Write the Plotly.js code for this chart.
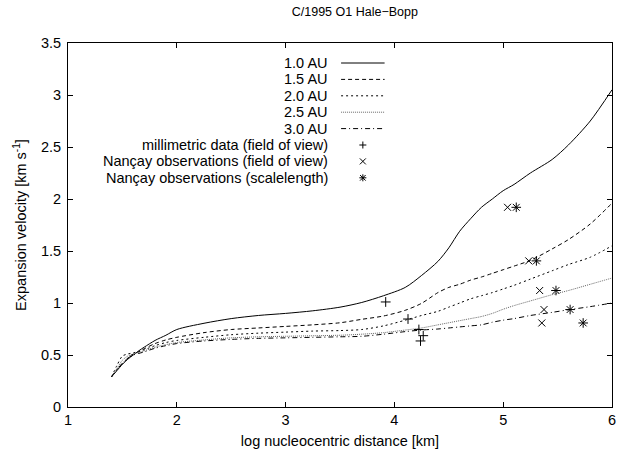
<!DOCTYPE html>
<html>
<head>
<meta charset="utf-8">
<script src="https://cdn.plot.ly/plotly-3.0.1.min.js"></script>
<style>html,body{margin:0;padding:0;background:#fff}#chart{width:644px;height:458px}</style>
</head>
<body>
<div id="chart"></div>
<script>
// log nucleocentric distance [km]
const logDistance = [1.4, 1.45, 1.5, 1.55, 1.6, 1.65, 1.7, 1.8, 1.9, 2.0, 2.25, 2.5, 2.75, 3.0, 3.25, 3.5, 3.7, 3.9, 4.1, 4.25, 4.4, 4.5, 4.6, 4.7, 4.8, 4.9, 5.0, 5.1, 5.25, 5.45, 5.6, 5.8, 6.0];
// expansion velocity [km/s] for each heliocentric distance
const v10AU = [0.29, 0.35, 0.41, 0.46, 0.50, 0.54, 0.575, 0.64, 0.69, 0.745, 0.805, 0.85, 0.88, 0.90, 0.925, 0.96, 1.005, 1.07, 1.15, 1.265, 1.40, 1.53, 1.69, 1.81, 1.92, 2.00, 2.08, 2.14, 2.25, 2.38, 2.52, 2.75, 3.05];
const v15AU = [0.29, 0.36, 0.42, 0.47, 0.51, 0.53, 0.56, 0.61, 0.645, 0.67, 0.715, 0.745, 0.76, 0.775, 0.79, 0.81, 0.843, 0.875, 0.93, 0.997, 1.10, 1.15, 1.18, 1.22, 1.25, 1.285, 1.32, 1.355, 1.41, 1.52, 1.61, 1.76, 1.96];
const v20AU = [0.29, 0.40, 0.49, 0.51, 0.52, 0.535, 0.55, 0.59, 0.62, 0.64, 0.67, 0.695, 0.71, 0.72, 0.73, 0.735, 0.745, 0.78, 0.835, 0.88, 0.92, 0.96, 1.0, 1.04, 1.07, 1.10, 1.135, 1.17, 1.23, 1.31, 1.37, 1.44, 1.55];
const v25AU = [0.29, 0.37, 0.45, 0.49, 0.51, 0.525, 0.54, 0.575, 0.60, 0.62, 0.645, 0.665, 0.675, 0.68, 0.685, 0.69, 0.70, 0.715, 0.74, 0.76, 0.79, 0.81, 0.83, 0.85, 0.87, 0.90, 0.94, 0.975, 1.02, 1.08, 1.12, 1.18, 1.24];
const v30AU = [0.29, 0.36, 0.42, 0.47, 0.50, 0.515, 0.53, 0.565, 0.59, 0.61, 0.635, 0.65, 0.66, 0.665, 0.67, 0.675, 0.68, 0.70, 0.725, 0.74, 0.75, 0.76, 0.77, 0.78, 0.79, 0.815, 0.835, 0.85, 0.88, 0.91, 0.935, 0.965, 1.00];
const curveNames = ["1.0 AU", "1.5 AU", "2.0 AU", "2.5 AU", "3.0 AU"];

// observations
const mmX = [3.92, 4.125, 4.225, 4.265, 4.24];
const mmY = [1.01, 0.846, 0.745, 0.686, 0.635];
const nancayFovX = [5.04, 5.235, 5.335, 5.375, 5.355];
const nancayFovY = [1.92, 1.405, 1.12, 0.937, 0.808];
const nancayScaleX = [5.12, 5.305, 5.485, 5.615, 5.735];
const nancayScaleY = [1.92, 1.405, 1.12, 0.937, 0.808];
const pointNames = ["millimetric data (field of view)", "Nançay observations (field of view)", "Nançay observations (scalelength)"];

const xTicks = [1, 2, 3, 4, 5, 6];
const yTicks = [0, 0.5, 1, 1.5, 2, 2.5, 3, 3.5];

const FONT = "Liberation Sans, Arial, Helvetica, sans-serif";
const FS = 14.5;
const lineStyles = [
  {color: "#000", width: 1, dash: "solid"},
  {color: "#000", width: 1, dash: "4px,3px"},
  {color: "#000", width: 1, dash: "2px,3px"},
  {color: "#666", width: 1, dash: "1px,1px"},
  {color: "#000", width: 1, dash: "5px,3px,1px,3px"}
];
const curves = [v10AU, v15AU, v20AU, v25AU, v30AU];
const markerSymbols = ["cross-thin-open", "x-thin-open", "asterisk-open"];
const pts = [[mmX, mmY], [nancayFovX, nancayFovY], [nancayScaleX, nancayScaleY]];

const traces = [];
curves.forEach((ys, i) => {
  traces.push({x: logDistance, y: ys, type: "scatter", mode: "lines", name: curveNames[i],
    line: Object.assign({shape: "spline", smoothing: 0.8}, lineStyles[i]), hoverinfo: "skip"});
});
pts.forEach((p, i) => {
  traces.push({x: p[0], y: p[1], type: "scatter", mode: "markers", name: pointNames[i],
    marker: {symbol: markerSymbols[i], size: i === 2 ? 8 : 7, color: "#000", line: {color: "#000", width: 1}}, hoverinfo: "skip"});
});

// plot area in page pixels
const L = 68, R = 612, T = 43, B = 407;
// legend geometry as fractions of the plot frame
const legendTextRight = 0.482, legendLine0 = 0.502, legendLine1 = 0.582, legendMark = 0.542;
const py2y = p => (B - p) / (B - T);
const annotations = [];
const shapes = [];
const legendLabels = curveNames.concat(pointNames);
const paths = [
  "M-3.5,0H3.5M0,-3.5V3.5",
  "M-3,-3L3,3M-3,3L3,-3",
  "M-3.5,0H3.5M0,-3.5V3.5M-2.8,-2.8L2.8,2.8M-2.8,2.8L2.8,-2.8"
];
legendLabels.forEach((name, i) => {
  const yp = 63 + 16.4 * i;
  annotations.push({xref: "paper", yref: "paper", x: legendTextRight, y: py2y(yp), xanchor: "right", yanchor: "middle",
    text: name, showarrow: false, font: {family: FONT, size: FS, color: "#000"}});
  if (i < curveNames.length) {
    shapes.push({type: "line", xref: "paper", yref: "paper", x0: legendLine0, x1: legendLine1, y0: py2y(yp), y1: py2y(yp),
      line: {color: lineStyles[i].color, width: 1, dash: lineStyles[i].dash}});
  } else {
    const k = i - curveNames.length;
    shapes.push({type: "path", xref: "paper", yref: "paper", xsizemode: "pixel", ysizemode: "pixel",
      xanchor: legendMark, yanchor: py2y(yp), path: paths[k], line: {color: "#000", width: 1}});
  }
});

const axisCommon = {
  showline: true, linecolor: "#000", linewidth: 1, mirror: "ticks",
  ticks: "inside", ticklen: 5, tickcolor: "#000", tickwidth: 1,
  showgrid: false, zeroline: false, tickmode: "array",
  tickfont: {family: FONT, size: FS, color: "#000"}
};

const layout = {
  width: 644, height: 458,
  margin: {l: L, r: 644 - R, t: T, b: 458 - B},
  paper_bgcolor: "#fff", plot_bgcolor: "#fff",
  showlegend: false,
  title: {text: "C/1995 O1 Hale\u2212Bopp", font: {family: FONT, size: 12.5, color: "#000"},
    x: 0.551, xanchor: "center", y: 0.974, yanchor: "middle"},
  xaxis: Object.assign({}, axisCommon, {range: [1, 6], tickvals: xTicks, ticktext: xTicks.map(String),
    title: {text: "log nucleocentric distance [km]", font: {family: FONT, size: FS, color: "#000"}, standoff: 8}}),
  yaxis: Object.assign({}, axisCommon, {range: [0, 3.5], tickvals: yTicks, ticktext: yTicks.map(String),
    ticklabelstandoff: 3,
    title: {text: "Expansion velocity [km s<sup>-1</sup>]", font: {family: FONT, size: FS, color: "#000"}, standoff: 10}}),
  annotations: annotations,
  shapes: shapes
};

Plotly.newPlot("chart", traces, layout, {staticPlot: true, displayModeBar: false});
</script>
</body>
</html>
